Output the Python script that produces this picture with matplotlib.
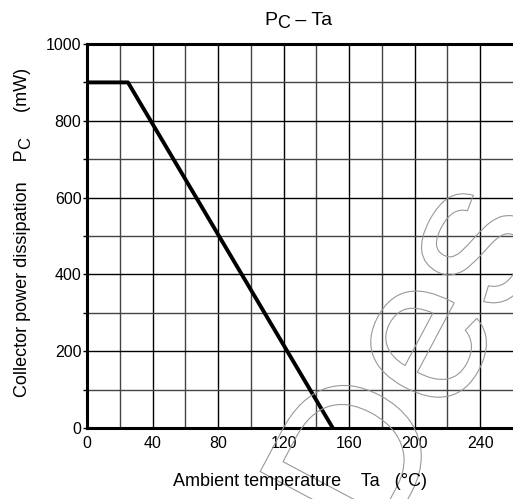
import matplotlib.pyplot as plt
import matplotlib.patheffects as pe
from matplotlib.ticker import MultipleLocator

plt.rcParams['font.family'] = ['Liberation Sans', 'DejaVu Sans']

# derating curve: collector power dissipation vs ambient temperature
ta = [0, 25, 150]
pc = [900, 900, 0]

x_ticks = [0, 40, 80, 120, 160, 200, 240]
y_ticks = [0, 200, 400, 600, 800, 1000]

W, H = 513, 499
fig = plt.figure(figsize=(W / 100, H / 100), dpi=100)
ax = fig.add_axes([87 / W, 1 - 428 / H, 426 / W, 384 / H])

ax.set_xlim(0, 260)
ax.set_ylim(0, 1000)

# fine grid every 20 degC / 100 mW, heavier at labelled values
for x in range(20, 260, 20):
    ax.axvline(x, color='black' if x % 40 == 0 else '#444444', lw=1.0, zorder=1)
for y in range(100, 1000, 100):
    ax.axhline(y, color='black' if y % 200 == 0 else '#444444', lw=1.0, zorder=1)

ax.plot(ta, pc, color='black', lw=2.8, solid_capstyle='butt', zorder=3)

ax.set_xticks(x_ticks)
ax.set_yticks(y_ticks)
ax.yaxis.set_minor_locator(MultipleLocator(100))
ax.tick_params(axis='x', length=0, pad=6, labelsize=11.5)
ax.tick_params(axis='y', which='both', length=3, width=1, pad=1, labelsize=11.5)

for side in ['top', 'bottom', 'left']:
    ax.spines[side].set_linewidth(2.2)
    ax.spines[side].set_zorder(4)
ax.spines['right'].set_visible(False)

renderer = fig.canvas.get_renderer()


def run_text(x0, y0, pieces, rotation=0):
    """Lay out (string, size, drop) pieces one after another from pixel (x0, y0)."""
    pos = 0.0
    for s, size, drop in pieces:
        if rotation == 0:
            t = fig.text((x0 + pos) / W, 1 - (y0 + drop) / H, s, fontsize=size,
                         ha='left', va='baseline')
            pos += t.get_window_extent(renderer).width
        else:
            t = fig.text((x0 + drop) / W, 1 - (y0 - pos) / H, s, fontsize=size,
                         rotation=90, ha='left', va='baseline',
                         rotation_mode='anchor')
            pos += t.get_window_extent(renderer).height


# title: P with subscript C
run_text(264, 25, [('P', 14, 0), ('C', 13, 3), (' – Ta', 14, 0)])

fig.text(300 / W, 1 - 482 / H, 'Ambient temperature    Ta   (°C)',
         ha='center', va='center', fontsize=13)

run_text(27, 397, [('Collector power dissipation    P', 13, 0), ('C', 12, 3),
                   ('     (mW)', 13, 0)], rotation=90)

# outlined watermark lettering
fig.text(418 / W, 1 - 365 / H, 'Des', ha='center', va='center', rotation=62,
         fontsize=150, color='none', zorder=0,
         path_effects=[pe.withStroke(linewidth=0.8, foreground='#999999')])

fig.savefig('out.png', dpi=100)
